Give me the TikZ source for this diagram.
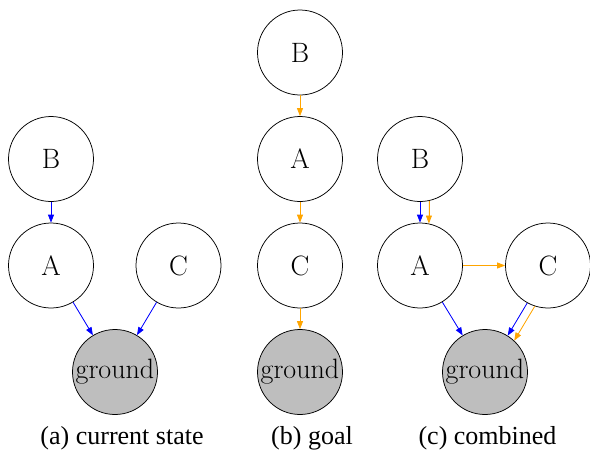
\documentclass[tikz,border=0pt]{standalone}
\usepackage{fontspec}
\newfontfamily\capfont{Liberation Serif}
\usetikzlibrary{arrows.meta}
\definecolor{gvorange}{RGB}{255,165,0}
\definecolor{gvgray}{RGB}{190,190,190}
\tikzset{
  st/.style={circle,draw=black,line width=0.75pt,fill=white,minimum size=85pt,inner sep=0pt,
    font=\fontsize{28}{32}\selectfont},
  gnd/.style={st,fill=gvgray},
  captext/.style={font=\capfont\fontsize{26}{30}\selectfont,inner sep=0pt},
  arr/.style={line width=0.8pt,-{Triangle[length=8pt,width=6pt]}},
  bl/.style={arr,draw=blue,fill=blue},
  orn/.style={arr,draw=gvorange,fill=gvorange},
}
\begin{document}
\begin{tikzpicture}[x=1pt,y=-1pt]
\useasboundingbox (0,0) rectangle (590,451);
% (a)
\node[st] (aB) at (51,159) {B};
\node[st] (aA) at (51,265.5) {A};
\node[st] (aC) at (178.5,265.5) {C};
\node[gnd] (aG) at (115,372) {ground};
\node[captext] (ca) at (122,438) {(a) current state};
\draw[bl] (aB) -- (aA);
\draw[bl] (aA) -- (aG);
\draw[bl] (aC) -- (aG);
% (b)
\node[st] (bB) at (300,52.5) {B};
\node[st] (bA) at (300,159) {A};
\node[st] (bC) at (300,265.5) {C};
\node[gnd] (bG) at (300,372) {ground};
\node[captext] (cb) at (312,438) {(b) goal};
\draw[orn] (bB) -- (bA);
\draw[orn] (bA) -- (bC);
\draw[orn] (bC) -- (bG);
% (c)
\node[st] (cB) at (420,159) {B};
\node[st] (cA) at (420,265.5) {A};
\node[st] (cC) at (548,265.5) {C};
\node[gnd] (cG) at (485,372) {ground};
\node[captext] (cc) at (487.5,438) {(c) combined};
\draw[bl] (cB) -- (cA);
\draw[orn] (cB.-78) -- (cA.78);
\draw[orn] (cA) -- (cC);
\draw[bl] (cA) -- (cG);
\draw[bl] (cC.241) -- (cG.58);
\draw[orn] (cC.252) -- (cG.47);
\end{tikzpicture}
\end{document}
